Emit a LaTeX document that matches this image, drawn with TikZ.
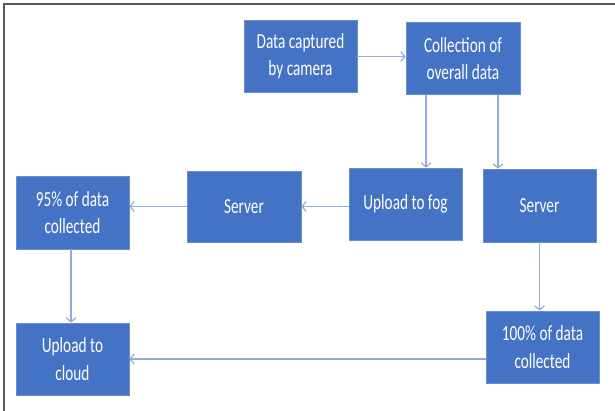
\documentclass[tikz,border=0pt]{standalone}
\usepackage{fontspec}
\setmainfont[FakeStretch=0.71]{Carlito}
\usetikzlibrary{arrows.meta}
\definecolor{boxfill}{HTML}{4472C4}
\definecolor{boxedge}{HTML}{6A8ED0}
\definecolor{linkcol}{HTML}{8FAADC}
\definecolor{framecol}{HTML}{5A5A5A}
\tikzset{
  stepbox/.style={draw=boxedge, line width=0.8pt, fill=boxfill, text=white,
    minimum width=113pt, minimum height=72pt, inner sep=0pt, align=center,
    font=\fontsize{21.5}{27.5}\selectfont},
  link/.style={draw=linkcol, line width=1.4pt,
    -{Straight Barb[length=4pt,width=10pt,line width=1.2pt]}}
}
\begin{document}
\begin{tikzpicture}[x=1pt,y=-1pt]
  \useasboundingbox (0,0) rectangle (615,411);
  % frame edges along the top and left
  \draw[framecol, line width=2pt] (4,411) -- (4,4) -- (615,4);

  \node[stepbox] (cam)   at (300.5,56.5) {Data captured\\by camera};
  \node[stepbox, minimum width=114pt] (coll) at (463,58.5) {Collection of\\overall data};
  \node[stepbox] (fog)   at (405.5,204) {Upload to fog};
  \node[stepbox, minimum height=73pt] (srvR) at (539.5,205.5) {Server};
  \node[stepbox, minimum width=114pt, minimum height=71pt] (srvL) at (244,206.5) {Server};
  \node[stepbox, minimum height=73pt] (p95) at (72.5,212.5) {95\% of data\\collected};
  \node[stepbox] (cloud) at (72.5,359) {Upload to\\cloud};
  \node[stepbox] (p100)  at (542.5,347) {100\% of data\\collected};

  \coordinate (collL) at ([xshift=-37pt]coll.south);
  \coordinate (collR) at ([xshift=35pt]coll.south);

  \draw[link] (cam.east) -- (coll.west |- cam.east);
  \draw[link] (collL) -- (collL |- fog.north);
  \draw[link] (collR) -- (collR |- srvR.north);
  \draw[link] (fog.west |- srvL.center) -- (srvL.east);
  \draw[link] (srvL.west) -- (p95.east |- srvL.west);
  \draw[link] ([xshift=-1.5pt]p95.south) -- ([xshift=-1.5pt]cloud.north);
  \draw[link] (srvR.south) -- (srvR.south |- p100.north);
  \draw[link] (p100.west |- cloud.east) -- (cloud.east);
\end{tikzpicture}
\end{document}
